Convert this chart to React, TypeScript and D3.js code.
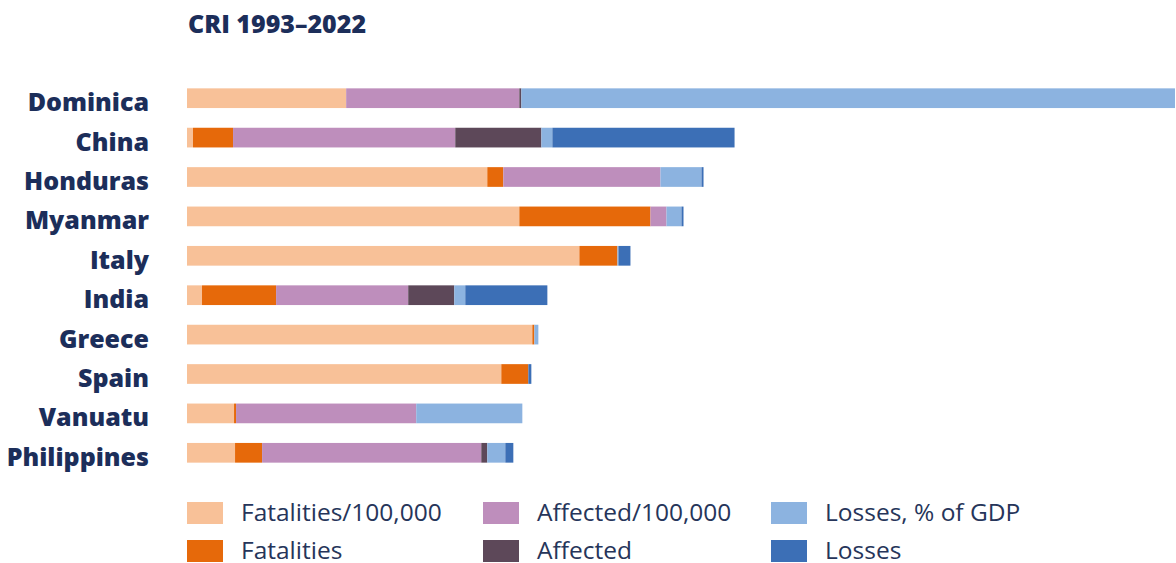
import React, { useEffect, useRef } from 'react';
import * as d3 from 'd3';

// countries top to bottom
const countries: string[] = [
  'Dominica', 'China', 'Honduras', 'Myanmar', 'Italy',
  'India', 'Greece', 'Spain', 'Vanuatu', 'Philippines',
];

const seriesNames: string[] = [
  'Fatalities/100,000', 'Fatalities', 'Affected/100,000',
  'Affected', 'Losses, % of GDP', 'Losses',
];

// segment lengths (same order as countries)
const fatalitiesPer100k = [159, 6, 300, 332, 392, 15, 345, 314, 47, 48];
const fatalities = [0, 40, 16, 131, 38, 74, 2, 27, 2, 27];
const affectedPer100k = [173, 222, 157, 16, 0, 132, 0, 0, 180, 219];
const affected = [2, 86, 0, 0, 0, 46, 0, 0, 0, 6];
const lossesGdp = [653, 11, 41, 15, 1, 11, 4, 0, 106, 18];
const losses = [0, 182, 2, 2, 12, 82, 0, 3, 0, 8];

const colors = ['#f8c198', '#e6690a', '#be8ebc', '#5d4859', '#8cb3e0', '#3c6fb6'];

const App = () => {
  const svgRef = useRef<SVGSVGElement>(null);

  useEffect(() => {
    const width = 1176;
    const height = 563;
    const svg = d3.select(svgRef.current).attr('width', width).attr('height', height);
    svg.selectAll('*').remove();

    const textColor = '#1c2e5a';
    const font = "'Open Sans', sans-serif";

    const cols = [fatalitiesPer100k, fatalities, affectedPer100k, affected, lossesGdp, losses];
    const rows = countries.map((c, i) => {
      const r: any = { country: c };
      seriesNames.forEach((s, j) => (r[s] = cols[j][i]));
      return r;
    });

    const stack = d3.stack<any>().keys(seriesNames);
    const layers = stack(rows);
    const maxTotal = d3.max(layers[layers.length - 1], d => d[1]) as number;

    const x = d3.scaleLinear().domain([0, maxTotal]).range([187, 1175]);
    const y = d3.scaleBand().domain(countries).range([78.5, 472.5]).paddingInner(0.5).paddingOuter(0.25);
    const color = d3.scaleOrdinal<string>().domain(seriesNames).range(colors);

    // title
    svg.append('text')
      .attr('x', 188)
      .attr('y', 33)
      .attr('font-family', font)
      .attr('font-weight', 800)
      .attr('font-size', 25)
      .attr('fill', textColor)
      .text('CRI 1993–2022');

    // bars
    svg.append('g')
      .selectAll('g')
      .data(layers)
      .enter()
      .append('g')
      .attr('fill', d => color(d.key))
      .selectAll('rect')
      .data(d => d)
      .enter()
      .append('rect')
      .attr('x', d => x(d[0]))
      .attr('y', d => y(d.data.country) as number)
      .attr('width', d => Math.max(0, x(d[1]) - x(d[0])))
      .attr('height', y.bandwidth());

    // country labels
    svg.append('g')
      .selectAll('text')
      .data(countries)
      .enter()
      .append('text')
      .attr('x', 149)
      .attr('y', d => (y(d) as number) + y.bandwidth() / 2 + 13)
      .attr('text-anchor', 'end')
      .attr('font-family', font)
      .attr('font-weight', 800)
      .attr('font-size', 25)
      .attr('fill', textColor)
      .text(d => d);

    // legend, 3 columns x 2 rows
    const legendCols = [187, 483, 771];
    const legendRows = [502, 540];
    const legend = svg.append('g')
      .selectAll('g')
      .data(seriesNames)
      .enter()
      .append('g')
      .attr('transform', (d, i) => `translate(${legendCols[Math.floor(i / 2)]}, ${legendRows[i % 2]})`);

    legend.append('rect')
      .attr('width', 36)
      .attr('height', 22)
      .attr('fill', d => color(d));

    legend.append('text')
      .attr('x', 54)
      .attr('y', 19)
      .attr('font-family', font)
      .attr('font-size', 24.5)
      .attr('fill', '#26355a')
      .text(d => d);
  }, []);

  return (
    <svg ref={svgRef} style={{ position: 'absolute', left: 0, top: 0, background: '#fff' }}></svg>
  );
};

export default App;
